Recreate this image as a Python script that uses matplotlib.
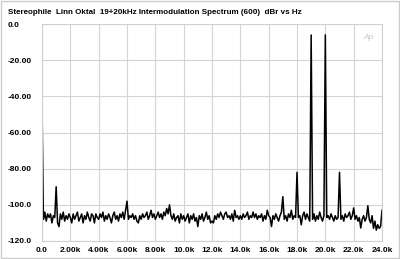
import numpy as np
import matplotlib
matplotlib.use("Agg")
import matplotlib.pyplot as plt
from matplotlib.patches import Rectangle

# spectrum sampled every 100 Hz, 0 .. 24 kHz
freq_hz = np.arange(0, 24001, 100)
level_dbr = [
    -44, -108, -104, -109, -105, -107, -105, -110, -106, -107,      # 0k
    -90, -110, -112, -105, -108, -104, -109, -106, -108, -105,      # 1k
    -107, -110, -105, -108, -106, -104, -109, -107, -105, -110,     # 2k
    -106, -108, -104, -107, -109, -105, -106, -110, -105, -107,     # 3k
    -108, -105, -107, -104, -109, -106, -108, -105, -107, -110,     # 4k
    -106, -104, -108, -106, -109, -105, -107, -104, -108, -103,     # 5k
    -98, -108, -106, -107, -105, -108, -106, -109, -110, -106,      # 6k
    -108, -105, -107, -106, -104, -108, -106, -103, -107, -105,     # 7k
    -108, -106, -104, -107, -105, -108, -104, -106, -102, -105,     # 8k
    -100, -106, -108, -105, -109, -107, -106, -110, -105, -108,     # 9k
    -106, -109, -107, -105, -110, -106, -108, -105, -109, -107,     # 10k
    -112, -106, -108, -105, -109, -107, -104, -108, -106, -110,     # 11k
    -109, -110, -106, -108, -105, -107, -104, -106, -108, -105,     # 12k
    -104, -107, -106, -108, -105, -109, -103, -107, -106, -108,     # 13k
    -106, -108, -105, -107, -106, -104, -108, -106, -107, -104,     # 14k
    -107, -105, -108, -106, -107, -105, -109, -106, -108, -103,     # 15k
    -106, -107, -112, -106, -108, -105, -107, -109, -106, -104,     # 16k
    -95.5, -108, -106, -109, -105, -107, -103, -108, -106, -107,    # 17k
    -82, -107, -106, -111, -106, -104, -108, -105, -107, -109,      # 18k
    -6, -108, -105, -109, -106, -108, -104, -107, -109, -106,       # 19k
    -6, -107, -106, -108, -105, -107, -109, -106, -108, -107,       # 20k
    -82, -108, -106, -109, -105, -107, -106, -104, -108, -106,      # 21k
    -101.7, -108, -106, -109, -107, -112.8, -108, -106, -109, -107, # 22k
    -100.5, -108, -110, -106, -113, -109, -114, -111, -113, -112,   # 23k
    -103,                                                           # 24k
]

x_ticks = np.arange(0, 24001, 2000)
x_labels = ["0.0", "2.00k", "4.00k", "6.00k", "8.00k", "10.0k", "12.0k",
            "14.0k", "16.0k", "18.0k", "20.0k", "22.0k", "24.0k"]
y_ticks = [0, -20, -40, -60, -80, -100, -120]
y_labels = ["0.0", "-20.00", "-40.00", "-60.00", "-80.00", "-100.0", "-120.0"]

title = "Stereophile  Linn Oktal  19+20kHz Intermodulation Spectrum (600)  dBr vs Hz"

plt.rcParams['font.family'] = ['Liberation Sans', 'DejaVu Sans']

fig = plt.figure(figsize=(4.0, 2.59), dpi=100)
ax = fig.add_axes([0.105, 0.0695, 0.85, 0.8375])

ax.plot(freq_hz, level_dbr, color='black', linewidth=1.1)

ax.set_xlim(0, 24000)
ax.set_ylim(-120, 0)
ax.set_xticks(x_ticks)
ax.set_xticklabels(x_labels, fontsize=6, fontweight='bold')
ax.set_yticks(y_ticks)
ax.set_yticklabels(y_labels, fontsize=6, fontweight='bold')
for lbl in ax.get_yticklabels():
    lbl.set_horizontalalignment('left')
ax.tick_params(axis='y', length=0, pad=24.5)
ax.tick_params(axis='x', length=0, pad=4)
ax.grid(True, color='#d4d4d4', linewidth=0.8)
ax.set_axisbelow(True)
for s in ax.spines.values():
    s.set_color('#cfcfcf')
    s.set_linewidth(0.8)

ax.text(0.975, 0.955, "Ap", transform=ax.transAxes, ha='right', va='top',
        fontsize=6, style='italic', color='#c8c8c8')

fig.text(8 / 400, 1 - 12 / 259, title, ha='left', va='center',
         fontsize=5.8, fontweight='bold')

fig.patches.append(Rectangle((0.002, 0.003), 0.995, 0.993, transform=fig.transFigure,
                             fill=False, edgecolor='#cccccc', linewidth=1))

fig.savefig("out.png", dpi=100)
